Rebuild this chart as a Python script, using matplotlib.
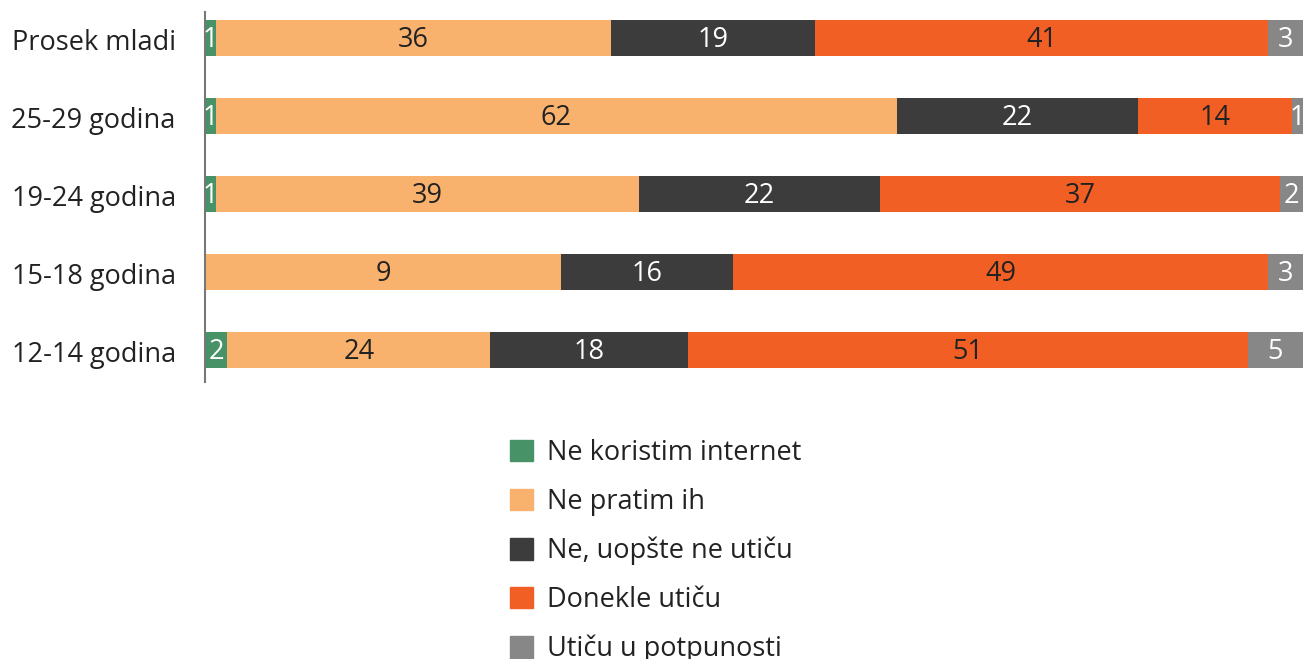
import matplotlib
matplotlib.use("Agg")
import matplotlib.pyplot as plt
import matplotlib.patches as mpatches
import numpy as np

ROWS = ["Prosek mladi", "25-29 godina", "19-24 godina", "15-18 godina", "12-14 godina"]
SERIES = ["Ne koristim internet", "Ne pratim ih", "Ne, uopšte ne utiču", "Donekle utiču", "Utiču u potpunosti"]

# bar widths
ne_koristim = [1, 1, 1, 0, 2]
ne_pratim = [36, 62, 38.5, 32.4, 24]
ne_uopste = [18.6, 22, 22, 15.7, 18]
donekle = [41.2, 14, 36.4, 48.7, 51]
potpuno = [3.2, 1, 2.1, 3.2, 5]

# printed labels, as shown in the chart
lbl_ne_koristim = ["1", "1", "1", "", "2"]
lbl_ne_pratim = ["36", "62", "39", "9", "24"]
lbl_ne_uopste = ["19", "22", "22", "16", "18"]
lbl_donekle = ["41", "14", "37", "49", "51"]
lbl_potpuno = ["3", "1", "2", "3", "5"]

COLORS = ["#479266", "#F9B16E", "#3C3C3C", "#F15F24", "#878787"]
TEXT_COLORS = ["white", "#222222", "white", "#222222", "white"]

plt.rcParams["font.family"] = ["Open Sans", "DejaVu Sans"]
plt.rcParams["font.weight"] = 500
FS = 19.5

W, H = 1303, 659
fig = plt.figure(figsize=(W / 100, H / 100), dpi=100)
ax = fig.add_axes([205 / W, 1 - 382 / H, (W - 205) / W, 370 / H])

values = [ne_koristim, ne_pratim, ne_uopste, donekle, potpuno]
labels = [lbl_ne_koristim, lbl_ne_pratim, lbl_ne_uopste, lbl_donekle, lbl_potpuno]
y = np.arange(len(ROWS))
left = np.zeros(len(ROWS))
for vals, lbls, col, tcol in zip(values, labels, COLORS, TEXT_COLORS):
    vals = np.array(vals, dtype=float)
    ax.barh(y, vals, left=left, height=0.45, color=col, linewidth=0)
    for yi, (l, v, t) in enumerate(zip(left, vals, lbls)):
        if t:
            ax.text(l + v / 2, yi + 0.03, t, ha="center", va="center", color=tcol, fontsize=FS)
    left += vals

ax.set_xlim(0, 100)
ax.set_ylim(4 + 0.41, -0.333)
ax.set_yticks(y + 0.02)
ax.set_yticklabels(ROWS, fontsize=FS, color="#222222")
ax.tick_params(axis="y", length=0, pad=21)
ax.set_xticks([])
for s in ["top", "right", "bottom"]:
    ax.spines[s].set_visible(False)
ax.spines["left"].set_color("#777777")
ax.spines["left"].set_linewidth(1.5)

handles = [mpatches.Patch(color=c, label=s) for c, s in zip(COLORS, SERIES)]
fig.legend(handles=handles, loc="upper left", bbox_to_anchor=(510 / W, 1 - 439 / H),
           frameon=False, fontsize=FS, handlelength=0.85, handleheight=0.85,
           handletextpad=0.5, labelspacing=0.77, borderpad=0, borderaxespad=0,
           labelcolor="#222222")

fig.savefig("out.png", dpi=100)
